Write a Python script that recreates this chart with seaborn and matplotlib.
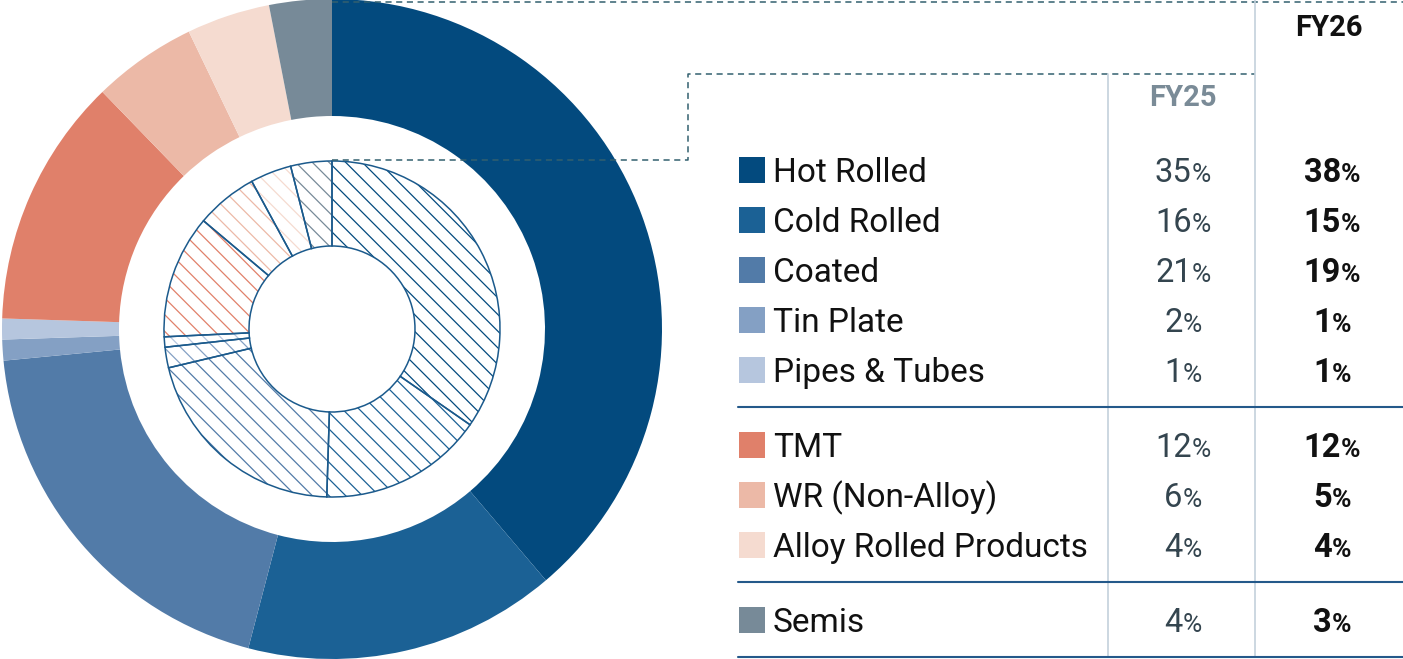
import matplotlib
matplotlib.use("Agg")
import matplotlib.pyplot as plt
import seaborn as sns

# product mix, FY25 (inner ring) vs FY26 (outer ring)
products = ["Hot Rolled", "Cold Rolled", "Coated", "Tin Plate", "Pipes & Tubes",
            "TMT", "WR (Non-Alloy)", "Alloy Rolled Products", "Semis"]
fy25 = [35, 16, 21, 2, 1, 12, 6, 4, 4]
fy26 = [38, 15, 19, 1, 1, 12, 5, 4, 3]
colors = ["#034a7e", "#1b6195", "#527ba8", "#84a0c4", "#b6c6de",
          "#e0806a", "#ecb9a7", "#f5dbd0", "#778a98"]

sns.set_theme(style="white")
plt.rcParams["font.family"] = ["Roboto", "DejaVu Sans"]

W, H = 1403, 659
fig = plt.figure(figsize=(W / 100, H / 100), dpi=100)
ax = fig.add_axes([0, 0, 1, 1])
renderer = fig.canvas.get_renderer()

def Y(p):
    # pixel row (from top) -> data y
    return H - p

cx, cy = 332, Y(329)

# outer ring FY26
ax.pie(fy26, colors=colors, radius=330, center=(cx, cy), startangle=90,
       counterclock=False, wedgeprops=dict(width=117, linewidth=0))

# inner ring FY25, hatched
plt.rcParams["hatch.linewidth"] = 0.9
inner, _ = ax.pie(fy25, colors=["white"] * len(fy25), radius=168, center=(cx, cy),
                  startangle=90, counterclock=False, hatch="\\\\",
                  wedgeprops=dict(width=85, linewidth=0))
for w, c in zip(inner, colors):
    w.set_edgecolor(c)
    w.set_linewidth(0)
ax.pie(fy25, colors=["none"] * len(fy25), radius=168, center=(cx, cy),
       startangle=90, counterclock=False,
       wedgeprops=dict(width=85, linewidth=1.1, edgecolor="#1b5a8c", facecolor="none"))

# dashed connector lines
dash = dict(color="#33606f", lw=1.1, ls=(0, (4, 3)))
ax.plot([cx, 688, 688, 1255], [Y(160), Y(160), Y(74), Y(74)], **dash)
ax.plot([cx, W], [Y(1.5), Y(1.5)], **dash)

# table grid
ax.plot([1108, 1108], [Y(74), Y(657)], color="#c3d1dc", lw=1.2)
ax.plot([1255, 1255], [Y(0), Y(657)], color="#c3d1dc", lw=1.2)
for yy in [407, 582, 657]:
    ax.plot([738, W], [Y(yy), Y(yy)], color="#24598a", lw=1.5)

ax.text(1183, Y(98), "FY25", fontsize=21, fontweight="bold", color="#7a8b97",
        ha="center", va="center")
ax.text(1329, Y(28), "FY26", fontsize=21, fontweight="bold", color="#111111",
        ha="center", va="center")

rows = [170, 220, 270, 320, 370, 445, 495, 545, 620]
ax.scatter([752] * len(rows), [Y(r) for r in rows], s=330, marker="s",
           c=colors, linewidths=0, zorder=3)

def pct(xc, row, val, color, weight):
    t1 = ax.text(0, Y(row + 12), str(val), fontsize=23.5, color=color,
                 fontweight=weight, ha="left", va="baseline")
    t2 = ax.text(0, Y(row + 12), "%", fontsize=19, color=color,
                 fontweight=weight, ha="left", va="baseline")
    w1 = t1.get_window_extent(renderer).width
    w2 = t2.get_window_extent(renderer).width
    x0 = xc - (w1 + w2) / 2
    t1.set_x(x0)
    t2.set_x(x0 + w1)

for name, a, b, r in zip(products, fy25, fy26, rows):
    ax.text(773, Y(r + 12), name, fontsize=24, color="#111111",
            ha="left", va="baseline")
    pct(1183, r, a, "#34454f", "normal")
    pct(1332, r, b, "#111111", "bold")

ax.set_xlim(0, W)
ax.set_ylim(0, H)
ax.set_aspect("equal")
ax.axis("off")
fig.savefig("out.png", dpi=100)
